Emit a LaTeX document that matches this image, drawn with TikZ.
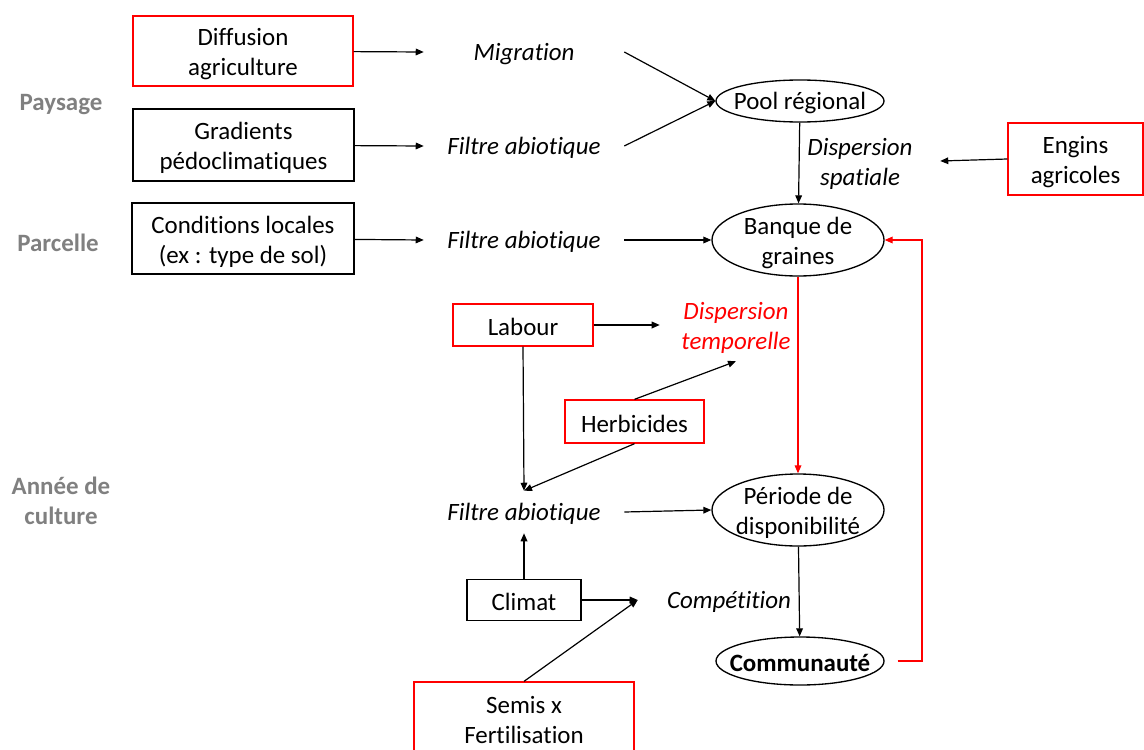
\documentclass[tikz,border=0pt]{standalone}
\usepackage{fontspec}
\setmainfont{Carlito}[Ligatures=NoCommon]
\usetikzlibrary{arrows.meta,shapes.geometric}
\newcommand\myfirststrut{\rule{0pt}{17.5pt}}
\begin{document}
\begin{tikzpicture}[x=0.75pt,y=-0.75pt,
  every node/.style={font=\fontsize{18.7}{22.5}\selectfont, align=center, execute at begin node={\rule{0pt}{16pt}}},
  box/.style={draw=black, line width=1pt, inner sep=0pt, rectangle},
  redbox/.style={box, draw=red},
  lbl/.style={inner sep=0pt, minimum width=150pt, minimum height=31.5pt, font=\fontsize{18.7}{22.5}\selectfont\itshape},
  oval/.style={draw=black, line width=1pt, ellipse, inner xsep=-10pt, inner ysep=-6pt},
  lvl/.style={text=black!50, font=\fontsize{18.7}{22.5}\selectfont\bfseries},
  arr/.style={line width=0.9pt, -{Triangle[length=6pt,width=5pt]}},
  redarr/.style={arr, draw=red, color=red}
]
\useasboundingbox (0,0) rectangle (1144,749);

% level labels
\node[lvl] (paysage) at (61,102) {Paysage};
\node[lvl] (parcelle) at (58,241) {Parcelle};
\node[lvl] (annee) at (61,501) {Année de\\culture};

% boxes
\node[redbox, minimum width=165pt, minimum height=52.5pt] (diff) at (243,51) {\myfirststrut Diffusion\\agriculture};
\node[box, minimum width=165.75pt, minimum height=54pt] (grad) at (243.5,145) {\myfirststrut Gradients\\pédoclimatiques};
\node[box, minimum width=166.5pt, minimum height=53.25pt] (cond) at (243,238.5) {\myfirststrut Conditions locales\\(ex : type de sol)};
\node[redbox, minimum width=101.25pt, minimum height=54pt] (engins) at (1075.5,159) {\myfirststrut Engins\\agricoles};
\node[redbox, minimum width=105pt, minimum height=31.5pt] (labour) at (523,325) {Labour};
\node[redbox, minimum width=104.25pt, minimum height=32.25pt] (herb) at (634.5,421.5) {Herbicides};
\node[box, minimum width=85.5pt, minimum height=30.75pt] (climat) at (524,600) {Climat};
\node[redbox, minimum width=165pt, minimum height=52.5pt] (semis) at (524,717) {\myfirststrut Semis x\\Fertilisation};

% italic process labels
\node[lbl] (migr) at (524,52) {Migration};
\node[lbl] (filt1) at (524,146) {Filtre abiotique};
\node[lbl] (filt2) at (524,240) {Filtre abiotique};
\node[lbl] (filt3) at (524,512) {Filtre abiotique};
\node[lbl, minimum width=114pt, minimum height=54pt, text=red] (dtemp) at (736,325) {\myfirststrut Dispersion\\temporelle};
\node[lbl, minimum width=136.5pt] (comp) at (729,600) {Compétition};
\node[lbl, minimum width=120pt, minimum height=54pt] (dspat) at (860,161) {\myfirststrut Dispersion\\spatiale};

% ellipses
\node[oval, minimum width=126pt, minimum height=31.5pt] (pool) at (800,101) {Pool régional};
\node[oval, minimum width=129pt, minimum height=54pt] (banque) at (798,240) {\myfirststrut Banque de\\graines};
\node[oval, minimum width=129pt, minimum height=54pt] (periode) at (798,510) {\myfirststrut Période de\\disponibilité};
\node[oval, minimum width=126pt, minimum height=36pt, font=\fontsize{18.7}{22.5}\selectfont\bfseries] (comm) at (800,661) {Communauté};

% connectors
\draw[arr] (diff) -- (migr.west);
\draw[arr] (grad) -- (filt1.west);
\draw[arr] (cond) -- (filt2.west);
\draw[arr] (migr.east) -- (pool.west);
\draw[arr] (filt1.east) -- (pool.west);
\draw[arr] (pool) -- (banque);
\draw[arr] (engins.west) -- (dspat.east);
\draw[arr] (filt2.east) -- (banque.west);
\draw[redarr] (banque) -- (periode);
\coordinate (fb) at (922,450);
\draw[redarr, shorten <=9.75pt] (comm.east) -| (fb) |- (banque.east);
\draw[arr] (labour.east) -- (dtemp.west);
\draw[arr] (herb.north) -- (dtemp.south);
\draw[arr] (herb.south) -- (filt3.north);
\draw[arr] (labour.south) -- (filt3.north);
\draw[arr] (filt3.east) -- (periode.west);
\draw[arr] (climat.north) -- (filt3.south);
\draw[arr] (climat.east) -- (comp.west);
\draw[arr] (semis.north) -- (comp.west);
\draw[arr] (periode) -- (comm);
\end{tikzpicture}
\end{document}
